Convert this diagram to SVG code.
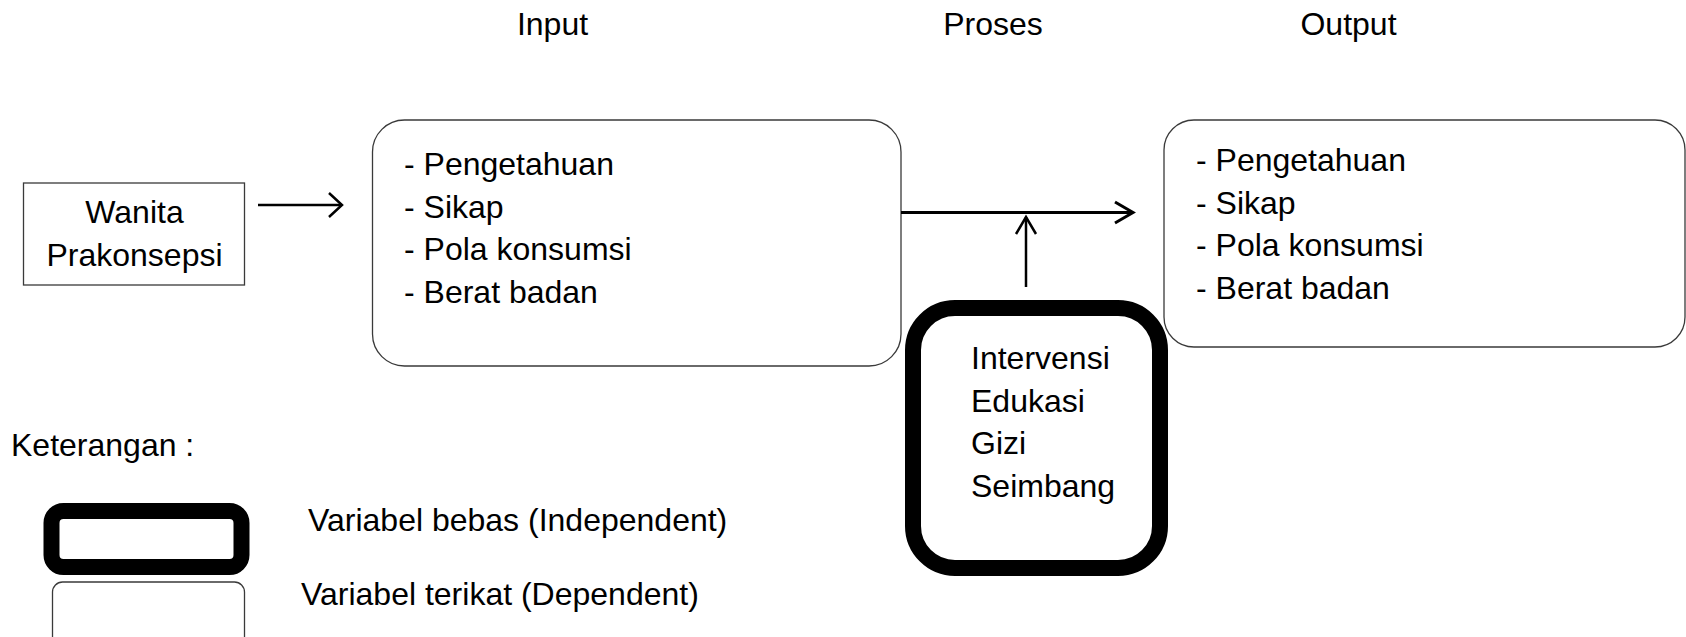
<svg xmlns="http://www.w3.org/2000/svg" width="1686" height="637" viewBox="0 0 1686 637">
  <style>
    text { font-family: "Liberation Sans", Arial, sans-serif; font-size: 32px; fill: #000; }
    .mid { text-anchor: middle; }
    .thin { fill: #fff; stroke: #3a3a3a; stroke-width: 1.3; }
    .thick { fill: #fff; stroke: #000; stroke-width: 16; }
    .conn { fill: none; stroke: #000; stroke-linecap: butt; stroke-linejoin: miter; }
  </style>

  <rect width="1686" height="637" fill="#fff"/>

  <!-- column headings -->
  <g id="headings">
    <text class="mid" x="552.5" y="35">Input</text>
    <text class="mid" x="993" y="35">Proses</text>
    <text class="mid" x="1348.5" y="35">Output</text>
  </g>

  <g id="node-wanita">
    <rect class="thin" x="23.5" y="183" width="221" height="102"/>
    <text class="mid" x="134.5" y="223">Wanita</text>
    <text class="mid" x="134.5" y="266">Prakonsepsi</text>
  </g>

  <g id="node-input">
    <rect class="thin" x="372.5" y="120" width="528.5" height="246" rx="32" ry="32"/>
    <text x="404" y="175">- Pengetahuan</text>
    <text x="404" y="217.5">- Sikap</text>
    <text x="404" y="260">- Pola konsumsi</text>
    <text x="404" y="302.5">- Berat badan</text>
  </g>

  <g id="node-output">
    <rect class="thin" x="1164" y="120" width="521" height="227" rx="30" ry="30"/>
    <text x="1196" y="171">- Pengetahuan</text>
    <text x="1196" y="213.5">- Sikap</text>
    <text x="1196" y="256">- Pola konsumsi</text>
    <text x="1196" y="298.5">- Berat badan</text>
  </g>

  <g id="node-intervensi">
    <rect class="thick" x="913" y="308" width="247" height="260" rx="42" ry="42"/>
    <text x="971" y="369">Intervensi</text>
    <text x="971" y="411.5">Edukasi</text>
    <text x="971" y="454">Gizi</text>
    <text x="971" y="496.5">Seimbang</text>
  </g>

  <g id="connectors">
    <path class="conn" stroke-width="2.5" d="M258,205 H342"/>
    <path class="conn" stroke-width="2.5" d="M329,193 L342,205 L329,217"/>
    <path class="conn" stroke-width="3" d="M901,212.5 H1133"/>
    <path class="conn" stroke-width="3" d="M1115,202 L1133,212.5 L1115,223"/>
    <path class="conn" stroke-width="2.5" d="M1026,287 V217"/>
    <path class="conn" stroke-width="2.5" d="M1016,234 L1026,217 L1036,234"/>
  </g>

  <g id="legend">
    <text x="11" y="456">Keterangan :</text>
    <rect class="thick" x="51.5" y="511" width="190" height="56" rx="12" ry="12"/>
    <text x="308" y="531">Variabel bebas (Independent)</text>
    <rect class="thin" x="52.5" y="582" width="192" height="72" rx="10" ry="10"/>
    <text x="301" y="605">Variabel terikat (Dependent)</text>
  </g>
</svg>
